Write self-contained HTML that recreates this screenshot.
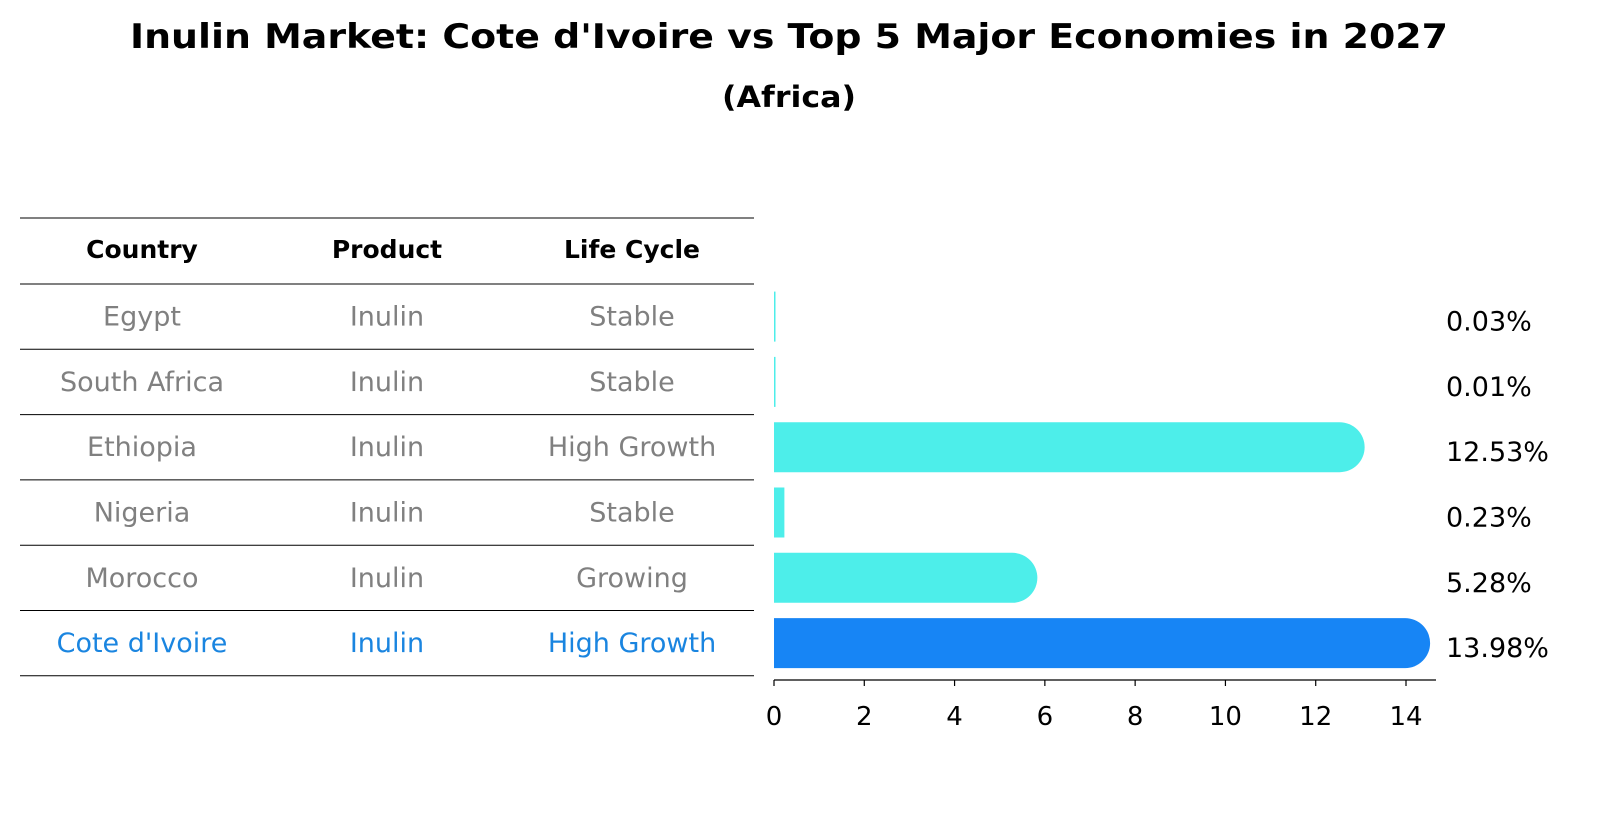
<!DOCTYPE html>
<html><head><meta charset="utf-8"><style>
html,body{margin:0;padding:0;background:#fff;overflow:hidden;width:1604px;height:823px;font-family:"Liberation Sans","DejaVu Sans",sans-serif;}
svg{display:block;}
</style></head><body>
<svg width="1604" height="823" xmlns="http://www.w3.org/2000/svg" font-family="DejaVu Sans, Liberation Sans, sans-serif">
<text x="789" y="48" text-anchor="middle" font-size="34" font-weight="bold" textLength="1318" lengthAdjust="spacingAndGlyphs">Inulin Market: Cote d'Ivoire vs Top 5 Major Economies in 2027</text>
<text x="789" y="107" text-anchor="middle" font-size="29" font-weight="bold" textLength="134" lengthAdjust="spacingAndGlyphs">(Africa)</text>
<g id="table"></g>
<g id="bars"></g>
<g id="axis"></g>
</svg>
<script>
const countries=["Egypt","South Africa","Ethiopia","Nigeria","Morocco","Cote d'Ivoire"];
const products=["Inulin","Inulin","Inulin","Inulin","Inulin","Inulin"];
const lifecycles=["Stable","Stable","High Growth","Stable","Growing","High Growth"];
const values=[0.03,0.01,12.53,0.23,5.28,13.98];
const valueLabels=["0.03%","0.01%","12.53%","0.23%","5.28%","13.98%"];
const ticks=[0,2,4,6,8,10,12,14];
const NS="http://www.w3.org/2000/svg";
const x0=774,ppu=(1406-774)/14;
const xs=v=>x0+v*ppu;
const rowY=i=>284+i*65.3;
function mk(tag,attrs,parent){const e=document.createElementNS(NS,tag);for(const k in attrs)e.setAttribute(k,attrs[k]);parent.appendChild(e);return e;}
const tbl=document.getElementById('table'),bars=document.getElementById('bars'),ax=document.getElementById('axis');
const cols=[142,387,632];
for(let i=0;i<=countries.length+1;i++){
 const y=i==0?218:rowY(i-1);
 const l=mk('line',{x1:20,x2:754,y1:y,y2:y,stroke:'#000','stroke-width':1},tbl);
 
 
}
["Country","Product","Life Cycle"].forEach((h,j)=>{
 const t=mk('text',{x:cols[j],y:258,'text-anchor':'middle','font-size':'25','font-weight':'bold'},tbl);
 t.textContent=h;
 
 
});
countries.forEach((c,i)=>{
 const last=i==countries.length-1;
 const col=last?'#1a85e0':'#808080';
 const cy=rowY(i)+32.6;
 [c,products[i],lifecycles[i]].forEach((v,j)=>{
  const t=mk('text',{x:cols[j],y:cy+9,'text-anchor':'middle','font-size':'27',fill:col},tbl);
  t.textContent=v;
  
  
 });
 const h=50,top=cy-h/2,w=xs(values[i])-x0;
 const fill=last?'#1785f5':'#4deeea';
 const g=mk('g',{},bars);
 
 
 if(values[i]>1){
  mk('path',{d:`M${x0},${top}H${x0+w}A${h/2},${h/2} 0 0 1 ${x0+w},${top+h}H${x0}Z`,fill:fill},g);
 } else {
  mk('rect',{x:x0,y:top,width:Math.max(w,1.5),height:h,fill:fill},g);
 }
 const t=mk('text',{x:1446,y:cy+14,'font-size':'27',fill:'#000'},bars);
 t.textContent=valueLabels[i];
 
 
});
mk('line',{x1:x0,x2:1436,y1:680,y2:680,stroke:'#000','stroke-width':1.2},ax);
ticks.forEach(v=>{
 mk('line',{x1:xs(v),x2:xs(v),y1:680,y2:686,stroke:'#000','stroke-width':1.2},ax);
 const t=mk('text',{x:xs(v),y:725,'text-anchor':'middle','font-size':'26'},ax);
 t.textContent=v;
 
 
});
</script>
</body></html>
